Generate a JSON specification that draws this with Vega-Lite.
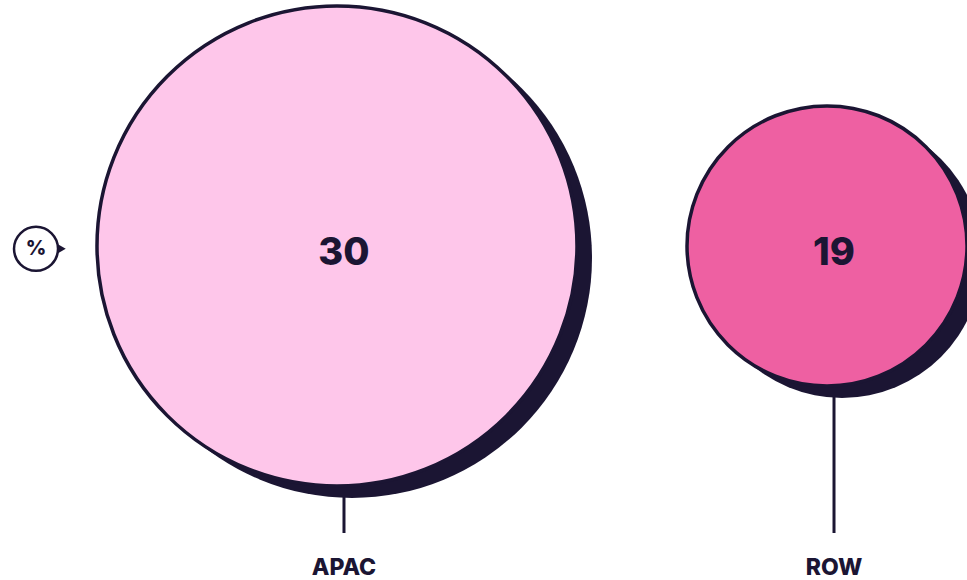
{
  "$schema": "https://vega.github.io/schema/vega-lite/v6.json",
  "width": 967,
  "height": 580,
  "autosize": {"type": "none"},
  "padding": 0,
  "background": "white",
  "config": {"view": {"stroke": null}},
  "layer": [
    {
      "data": {"values": [
        {"region": "APAC", "share": 30, "pos": 1},
        {"region": "ROW", "share": 19, "pos": 2}
      ]},
      "encoding": {
        "x": {"field": "pos", "type": "quantitative", "scale": {"domain": [0.298, 2.2714]}, "axis": null}
      },
      "layer": [
        {
          "mark": {"type": "rule", "stroke": "#1b1533", "strokeWidth": 3},
          "encoding": {
            "y": {"datum": 57.6, "type": "quantitative", "scale": {"domain": [0, 100]}, "axis": null},
            "y2": {"datum": 8.1}
          }
        },
        {
          "mark": {"type": "point", "shape": "circle", "filled": true, "opacity": 1, "fill": "#1b1533", "stroke": null, "xOffset": 8, "yOffset": 12},
          "encoding": {
            "y": {"datum": 57.6, "type": "quantitative"},
            "size": {"field": "share", "type": "quantitative", "scale": {"domain": [19, 30], "range": [78400, 230400], "zero": false}, "legend": null}
          }
        },
        {
          "mark": {"type": "point", "shape": "circle", "filled": true, "opacity": 1, "stroke": "#1b1533", "strokeWidth": 3.5, "strokeOpacity": 1, "xOffset": -7},
          "encoding": {
            "y": {"datum": 57.6, "type": "quantitative"},
            "size": {"field": "share", "type": "quantitative", "legend": null},
            "fill": {"field": "region", "type": "nominal", "scale": {"domain": ["APAC", "ROW"], "range": ["#fec6ea", "#ee60a2"]}, "legend": null}
          }
        },
        {
          "mark": {"type": "text", "font": "Inter", "fontWeight": 800, "fontSize": 38, "fill": "#1b1533", "align": "center", "baseline": "alphabetic"},
          "encoding": {
            "y": {"datum": 54.3, "type": "quantitative"},
            "text": {"field": "share", "type": "quantitative"}
          }
        },
        {
          "mark": {"type": "text", "font": "Inter", "fontWeight": 800, "fontSize": 23, "fill": "#1b1533", "align": "center", "baseline": "alphabetic"},
          "encoding": {
            "y": {"datum": 0.9, "type": "quantitative"},
            "text": {"field": "region", "type": "nominal"}
          }
        }
      ]
    },
    {
      "data": {"values": [{"badge": "%"}]},
      "layer": [
        {
          "mark": {"type": "point", "shape": "triangle-right", "filled": true, "opacity": 1, "fill": "#1b1533", "size": 350},
          "encoding": {
            "x": {"datum": 0.4156, "type": "quantitative", "scale": {"domain": [0.298, 2.2714]}},
            "y": {"datum": 57.1, "type": "quantitative", "scale": {"domain": [0, 100]}}
          }
        },
        {
          "mark": {"type": "point", "shape": "circle", "filled": true, "opacity": 1, "fill": "white", "stroke": "#1b1533", "strokeWidth": 2.5, "strokeOpacity": 1, "size": 1936},
          "encoding": {
            "x": {"datum": 0.3715, "type": "quantitative", "scale": {"domain": [0.298, 2.2714]}},
            "y": {"datum": 57.1, "type": "quantitative", "scale": {"domain": [0, 100]}}
          }
        },
        {
          "mark": {"type": "text", "font": "Inter", "fontWeight": 800, "fontSize": 20, "fill": "#1b1533", "align": "center", "baseline": "middle"},
          "encoding": {
            "x": {"datum": 0.3715, "type": "quantitative", "scale": {"domain": [0.298, 2.2714]}},
            "y": {"datum": 57.1, "type": "quantitative", "scale": {"domain": [0, 100]}},
            "text": {"field": "badge", "type": "nominal"}
          }
        }
      ]
    }
  ]
}
